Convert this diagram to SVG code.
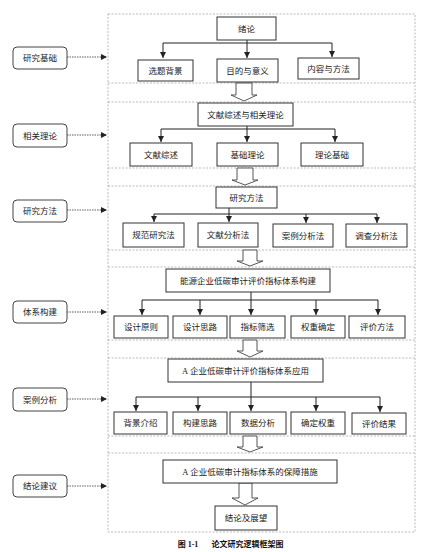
<svg xmlns="http://www.w3.org/2000/svg" width="448" height="552" viewBox="0 0 448 552">
<style>
.bx{fill:#fff;stroke:#333;stroke-width:1}
.lb{fill:#fff;stroke:#444;stroke-width:1}
.t{font-family:"Liberation Serif","Noto Sans CJK SC",serif;font-size:8.5px;fill:#222;text-anchor:middle;dominant-baseline:central}
.ln{fill:none;stroke:#222;stroke-width:1}
.dl{fill:none;stroke:#aaa;stroke-width:0.8;stroke-dasharray:2 1.5}
.da{fill:none;stroke:#333;stroke-width:0.8;stroke-dasharray:1.5 1}
.ba{fill:#fff;stroke:#444;stroke-width:0.9}
.cap{font-family:"Liberation Serif","Noto Sans CJK SC",serif;font-size:8px;font-weight:bold;fill:#111;text-anchor:middle;dominant-baseline:central}
</style>
<defs>
<marker id="ah" markerUnits="userSpaceOnUse" markerWidth="6" markerHeight="6" refX="6" refY="3" orient="auto">
<path d="M0,0 L6,3 L0,6 Z" fill="#222"/>
</marker>
</defs>
<rect width="448" height="552" fill="#fff"/>
<g id="frame">
<rect class="dl" x="108" y="14" width="307" height="518"/>
<path class="dl" d="M108,83H415M108,102H415M108,168H415M108,186H415M108,250H415M108,267H415M108,340H415M108,358H415M108,436H415M108,453H415"/>
</g>
<g id="connectors">
<!-- section 1 -->
<path class="ln" d="M247,40V58" marker-end="url(#ah)"/>
<path class="ln" d="M163,43H332"/>
<path class="ln" d="M163,43V58" marker-end="url(#ah)"/>
<path class="ln" d="M332,43V57" marker-end="url(#ah)"/>
<!-- section 2 -->
<path class="ln" d="M247,126V142" marker-end="url(#ah)"/>
<path class="ln" d="M161,129H335"/>
<path class="ln" d="M161,129V142" marker-end="url(#ah)"/>
<path class="ln" d="M335,129V142" marker-end="url(#ah)"/>
<!-- section 3 -->
<path class="ln" d="M229,208V222" marker-end="url(#ah)"/>
<path class="ln" d="M154,214H377"/>
<path class="ln" d="M154,214V222" marker-end="url(#ah)"/>
<path class="ln" d="M306,214V223" marker-end="url(#ah)"/>
<path class="ln" d="M377,214V223" marker-end="url(#ah)"/>
<!-- section 4 -->
<path class="ln" d="M251,292V315" marker-end="url(#ah)"/>
<path class="ln" d="M142,300H378"/>
<path class="ln" d="M142,300V315" marker-end="url(#ah)"/>
<path class="ln" d="M200,300V315" marker-end="url(#ah)"/>
<path class="ln" d="M316,300V315" marker-end="url(#ah)"/>
<path class="ln" d="M378,300V315" marker-end="url(#ah)"/>
<!-- section 5 -->
<path class="ln" d="M251,382V411" marker-end="url(#ah)"/>
<path class="ln" d="M136,397H380"/>
<path class="ln" d="M136,397V411" marker-end="url(#ah)"/>
<path class="ln" d="M198,397V411" marker-end="url(#ah)"/>
<path class="ln" d="M316,397V411" marker-end="url(#ah)"/>
<path class="ln" d="M380,397V412" marker-end="url(#ah)"/>
<!-- label dashed arrows -->
<path class="da" d="M67,57H107" marker-end="url(#ah)"/>
<path class="da" d="M67,135H107" marker-end="url(#ah)"/>
<path class="da" d="M67,210H107" marker-end="url(#ah)"/>
<path class="da" d="M67,312H107" marker-end="url(#ah)"/>
<path class="da" d="M67,399H107" marker-end="url(#ah)"/>
<path class="da" d="M67,486H107" marker-end="url(#ah)"/>
<!-- block arrows -->
<path class="ba" d="M236,83H252V95H257L244,101L231,95H236Z"/>
<path class="ba" d="M237,168H253V180H258L245,185L232,180H237Z"/>
<path class="ba" d="M243,250H257V261H263L250,266L237,261H243Z"/>
<path class="ba" d="M243,340H257V351H263L250,357L237,351H243Z"/>
<path class="ba" d="M243,436H257V447H263L250,452L237,447H243Z"/>
<path class="ba" d="M239,483H252V498H258L245,505L232,498H239Z"/>
</g>
<g id="lbl1"><rect class="lb" x="13" y="47" width="54" height="22" rx="4"/><text class="t" x="40" y="58">研究基础</text></g>
<g id="lbl2"><rect class="lb" x="13" y="124" width="54" height="23" rx="4"/><text class="t" x="40" y="135.5">相关理论</text></g>
<g id="lbl3"><rect class="lb" x="13" y="200" width="54" height="22" rx="4"/><text class="t" x="40" y="211">研究方法</text></g>
<g id="lbl4"><rect class="lb" x="13" y="301" width="54" height="22" rx="4"/><text class="t" x="40" y="312">体系构建</text></g>
<g id="lbl5"><rect class="lb" x="13" y="388" width="54" height="23" rx="4"/><text class="t" x="40" y="399.5">案例分析</text></g>
<g id="lbl6"><rect class="lb" x="13" y="475" width="54" height="22" rx="4"/><text class="t" x="40" y="486">结论建议</text></g>
<g id="n1"><rect class="bx" x="217" y="17" width="59" height="23"/><text class="t" x="246.5" y="28.5">绪论</text></g>
<g id="n1a"><rect class="bx" x="138" y="60" width="55" height="21"/><text class="t" x="165.5" y="70.5">选题背景</text></g>
<g id="n1b"><rect class="bx" x="217" y="59" width="61" height="23"/><text class="t" x="247.5" y="70.5">目的与意义</text></g>
<g id="n1c"><rect class="bx" x="298" y="58" width="61" height="21"/><text class="t" x="328.5" y="68.5">内容与方法</text></g>
<g id="n2"><rect class="bx" x="198" y="103" width="95" height="23"/><text class="t" x="245.5" y="114.5">文献综述与相关理论</text></g>
<g id="n2a"><rect class="bx" x="130" y="143" width="62" height="23"/><text class="t" x="161" y="154.5">文献综述</text></g>
<g id="n2b"><rect class="bx" x="217" y="143" width="61" height="23"/><text class="t" x="247.5" y="154.5">基础理论</text></g>
<g id="n2c"><rect class="bx" x="301" y="143" width="62" height="23"/><text class="t" x="332" y="154.5">理论基础</text></g>
<g id="n3"><rect class="bx" x="216" y="187" width="61" height="21"/><text class="t" x="246.5" y="197.5">研究方法</text></g>
<g id="n3a"><rect class="bx" x="123" y="223" width="61" height="24"/><text class="t" x="153.5" y="235">规范研究法</text></g>
<g id="n3b"><rect class="bx" x="198" y="223" width="60" height="24"/><text class="t" x="228" y="235">文献分析法</text></g>
<g id="n3c"><rect class="bx" x="273" y="224" width="60" height="23"/><text class="t" x="303" y="235.5">案例分析法</text></g>
<g id="n3d"><rect class="bx" x="346" y="224" width="61" height="23"/><text class="t" x="376.5" y="235.5">调查分析法</text></g>
<g id="n4"><rect class="bx" x="166" y="269" width="164" height="23"/><text class="t" x="248" y="280.5">能源企业低碳审计评价指标体系构建</text></g>
<g id="n4a"><rect class="bx" x="114" y="316" width="54" height="22"/><text class="t" x="141" y="327">设计原则</text></g>
<g id="n4b"><rect class="bx" x="173" y="316" width="54" height="22"/><text class="t" x="200" y="327">设计思路</text></g>
<g id="n4c"><rect class="bx" x="230" y="316" width="55" height="22"/><text class="t" x="257.5" y="327">指标筛选</text></g>
<g id="n4d"><rect class="bx" x="291" y="316" width="54" height="22"/><text class="t" x="318" y="327">权重确定</text></g>
<g id="n4e"><rect class="bx" x="349" y="316" width="56" height="22"/><text class="t" x="377" y="327">评价方法</text></g>
<g id="n5"><rect class="bx" x="168" y="359" width="155" height="23"/><text class="t" x="245.5" y="370.5">A 企业低碳审计评价指标体系应用</text></g>
<g id="n5a"><rect class="bx" x="114" y="412" width="53" height="22"/><text class="t" x="140.5" y="423">背景介绍</text></g>
<g id="n5b"><rect class="bx" x="173" y="412" width="54" height="22"/><text class="t" x="200" y="423">构建思路</text></g>
<g id="n5c"><rect class="bx" x="230" y="412" width="56" height="22"/><text class="t" x="258" y="423">数据分析</text></g>
<g id="n5d"><rect class="bx" x="291" y="412" width="54" height="22"/><text class="t" x="318" y="423">确定权重</text></g>
<g id="n5e"><rect class="bx" x="352" y="413" width="54" height="21"/><text class="t" x="379" y="423.5">评价结果</text></g>
<g id="n6"><rect class="bx" x="163" y="460" width="174" height="23"/><text class="t" x="250" y="471.5">A 企业低碳审计指标体系的保障措施</text></g>
<g id="n6a"><rect class="bx" x="215" y="506" width="62" height="24"/><text class="t" x="246" y="518">结论及展望</text></g>
<g id="caption"><text class="cap" x="188" y="544">图 1-1</text><text class="cap" x="247.5" y="544">论文研究逻辑框架图</text></g>
</svg>
